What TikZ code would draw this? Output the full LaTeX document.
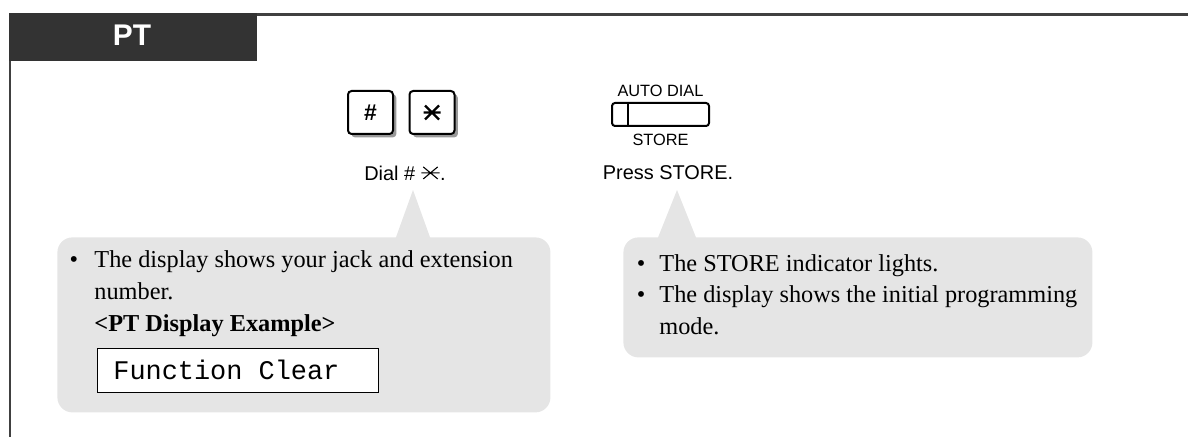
\documentclass[tikz,border=0pt]{standalone}
\usepackage{fontspec}
\setmainfont{Liberation Serif}
\setsansfont{Liberation Sans}
\setmonofont{Liberation Mono}
\usetikzlibrary{positioning,shadows}

\definecolor{headgray}{HTML}{333333}
\definecolor{framegray}{HTML}{404040}
\definecolor{bubblegray}{HTML}{E5E5E5}
\definecolor{shadowgray}{HTML}{999999}

% small star of the dial text
\newcommand{\dialstar}{\tikz[baseline=-3.6bp,x=1bp,y=1bp,line width=0.55bp]{\draw (-4.6,0) -- (4.6,0) (-3.6,-3) -- (3.6,3) (-3.6,3) -- (3.6,-3);}}

\begin{document}
\begin{tikzpicture}[x=0.5bp,y=-0.5bp,
	frame/.style={draw=framegray, line width=1.3bp},
	keybox/.style={draw, fill=white, line width=1bp, rounded corners=1.8bp, minimum width=22.5bp, minimum height=21.5bp, inner sep=0pt,
		drop shadow={shadow xshift=1.7bp, shadow yshift=-1.7bp, fill=shadowgray, opacity=1}},
	steplabel/.style={font=\sffamily\fontsize{10}{12}\selectfont, inner sep=0pt},
	smalllabel/.style={font=\sffamily\fontsize{8.2}{9}\selectfont, inner sep=0pt},
	bubble/.style={fill=bubblegray, rounded corners=7.5bp, inner sep=0pt, anchor=north west},
	bodytext/.style={font=\fontsize{12.2}{15}\selectfont, inner sep=0pt, anchor=base west},
	lcdbox/.style={draw, fill=white, line width=0.7bp, inner sep=0pt, anchor=north west}]
	\useasboundingbox (0,0) rectangle (1188,437);
	
	% Draw the header and the frame
	\fill[headgray] (9,13) rectangle (257,61);
	\node[font=\sffamily\bfseries\fontsize{15}{18}\selectfont, text=white, inner sep=0pt] (pt) at (132,35) {PT};
	\draw[frame] (257,14.5) -- (1188,14.5);
	\draw[frame] (10,61) -- (10,437);
	
	% Draw the keys
	\node[keybox, font=\sffamily\bfseries\fontsize{11.5}{12}\selectfont] (hashkey) at (370.5,112.5) {\#};
	\node[keybox] (starkey) at (432,112.5) {};
	\draw[line width=1.1bp, shift={(starkey.center)}] (-8.5,0) -- (8.5,0) (-7,-7) -- (7,7) (-7,7) -- (7,-7);
	\node[steplabel] (dial) at (405,173) {Dial \# \dialstar.};
	
	% Draw the store button
	\node[draw, line width=1bp, rounded corners=1.5bp, minimum width=48.5bp, minimum height=11.5bp, inner sep=0pt] (storebtn) at (660.5,114.5) {};
	\draw[line width=1bp] ([xshift=8.5bp]storebtn.north west) -- ([xshift=8.5bp]storebtn.south west);
	\node[smalllabel, above=2.7bp of storebtn] (autodial) {AUTO DIAL};
	\node[smalllabel, below=3.3bp of storebtn] (storelabel) {STORE};
	\node[steplabel] (press) at (668,173) {Press STORE.};
	
	% Draw the left callout
	\node[bubble, minimum width=246.5bp, minimum height=87.5bp] (leftbubble) at (57,237) {};
	\coordinate (dialtip) at (413,190);
	\fill[bubblegray] (dialtip) -- (431,240) -- (395,240) -- cycle;
	\node[bodytext, anchor=base] (lbullet) at (74,268) {\textbullet};
	\node[bodytext] (lline1) at (94,268) {The display shows your jack and extension};
	\node[bodytext] (lline2) at (94,300) {number.};
	\node[bodytext, font=\bfseries\fontsize{12.2}{15}\selectfont] (lline3) at (94,332) {<PT Display Example>};
	\node[lcdbox, minimum width=140.5bp, minimum height=22bp] (lcd) at (97,348) {};
	\node[font=\ttfamily\fontsize{13.5}{15}\selectfont, anchor=west, inner sep=0pt] (lcdtext) at (113,370) {Function Clear};
	
	% Draw the right callout
	\node[bubble, minimum width=234.5bp, minimum height=60bp] (rightbubble) at (623,237) {};
	\coordinate (presstip) at (677,190);
	\fill[bubblegray] (presstip) -- (697,240) -- (657,240) -- cycle;
	\node[bodytext, anchor=base] (rbullet1) at (641,272) {\textbullet};
	\node[bodytext] (rline1) at (659,272) {The STORE indicator lights.};
	\node[bodytext, anchor=base] (rbullet2) at (641,303) {\textbullet};
	\node[bodytext] (rline2) at (659,303) {The display shows the initial programming};
	\node[bodytext] (rline3) at (659,335) {mode.};
\end{tikzpicture}
\end{document}
